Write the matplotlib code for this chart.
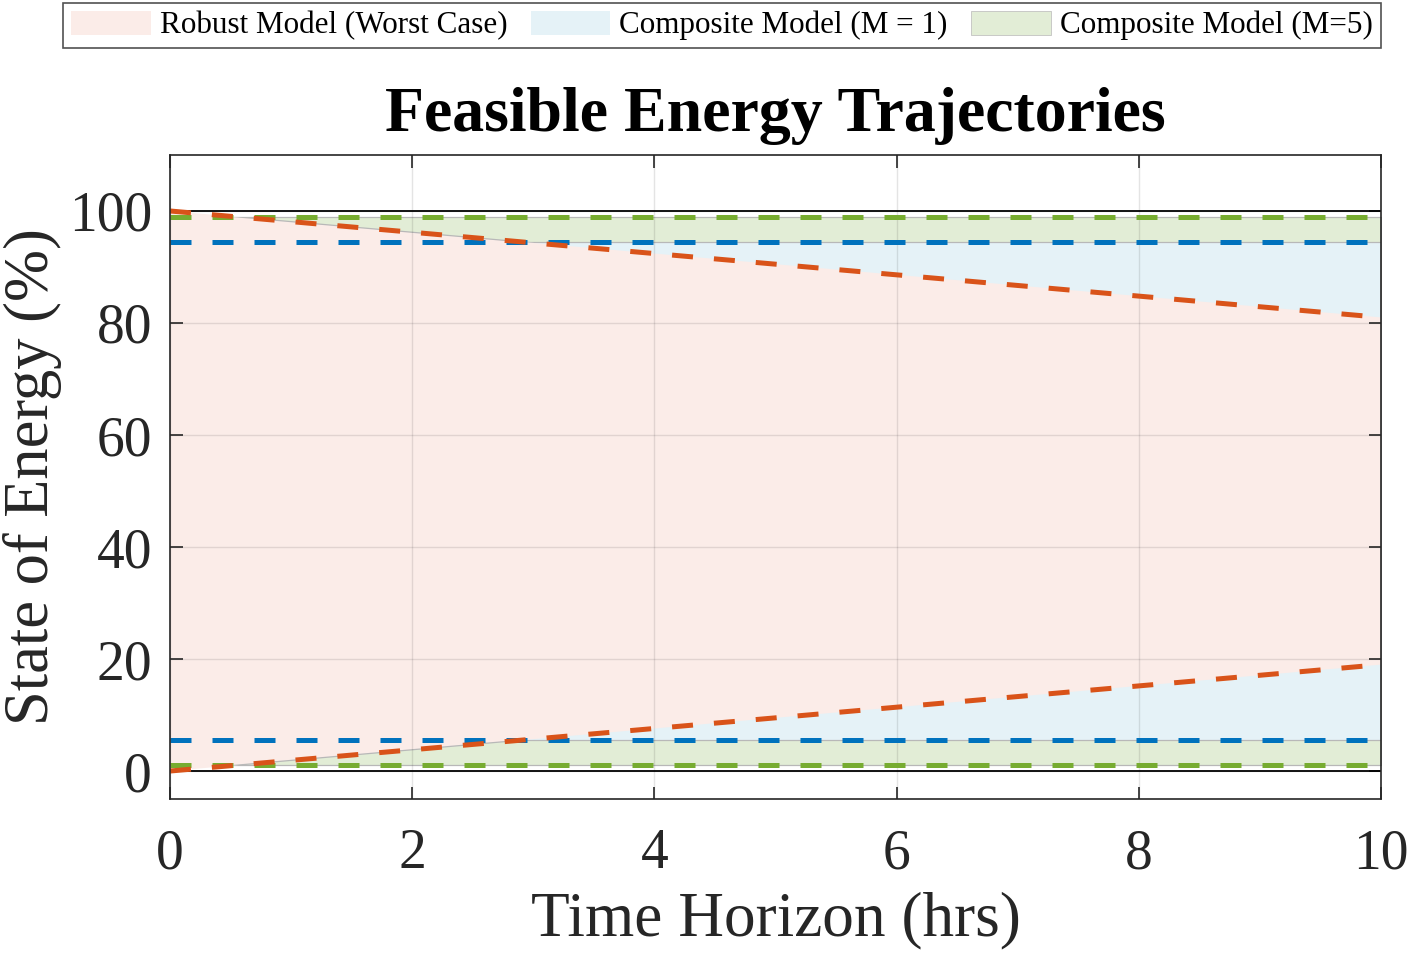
import matplotlib
matplotlib.use("Agg")
import matplotlib.pyplot as plt
from matplotlib.patches import Rectangle, Patch
import numpy as np

# ---- data ----
t_hours = [0, 1, 2, 3, 4, 5, 6, 7, 8, 9, 10]
robust_upper = [100, 98.1, 96.2, 94.3, 92.4, 90.5, 88.6, 86.7, 84.8, 82.9, 81.0]
robust_lower = [0, 1.9, 3.8, 5.7, 7.6, 9.5, 11.4, 13.3, 15.2, 17.1, 19.0]
m1_bounds = [5.5, 94.5]
m5_bounds = [1.0, 99.0]
soe_limits = [0, 100]
x_ticks = [0, 2, 4, 6, 8, 10]
y_ticks = [0, 20, 40, 60, 80, 100]
legend_labels = ["Robust Model (Worst Case)", "Composite Model (M = 1)", "Composite Model (M=5)"]

# ---- style ----
c_orange = "#D95319"
c_blue = "#0072BD"
c_green = "#77AC30"
f_pink = "#FBECE8"
f_blue = "#E5F2F7"
f_green = "#E2EDD6"
edge_gray = "#B8B8B8"
txt = "#262626"

plt.rcParams["font.family"] = ["Liberation Serif", "DejaVu Serif"]
plt.rcParams["mathtext.fontset"] = "stix"

fig = plt.figure(figsize=(14.12, 9.59), dpi=100)
ax = fig.add_axes([0.1204, 0.1668, 0.8576, 0.6716])

t = np.array(t_hours, dtype=float)
ub = np.array(robust_upper)
lb = np.array(robust_lower)
xmin, xmax = t[0], t[-1]

# fills (layered)
ax.fill_between(t, m5_bounds[0], m5_bounds[1], facecolor=f_green,
                edgecolor=edge_gray, linewidth=0.9, zorder=1)
ax.fill_between(t, m1_bounds[0], m1_bounds[1], facecolor=f_blue,
                edgecolor=edge_gray, linewidth=0.9, zorder=1.1)
ax.fill_between(t, lb, ub, facecolor=f_pink, edgecolor="none", zorder=1.2)

# gray edge of robust region where it borders the green band
for yv, lo, hi in [(ub, m1_bounds[1], m5_bounds[1]), (lb, m5_bounds[0], m1_bounds[0])]:
    ln, = ax.plot(t, yv, color=edge_gray, lw=0.9, zorder=1.3)
    ln.set_clip_path(Rectangle((xmin, lo), xmax - xmin, hi - lo, transform=ax.transData))

# SOE limits (black)
for yl in soe_limits:
    ax.plot([xmin, xmax], [yl, yl], color="black", lw=1.3, zorder=2)

dash = (0, (4.2, 4.2))
lw = 3.6
for yb in m5_bounds:
    ax.plot([xmin, xmax], [yb, yb], color=c_green, lw=lw, linestyle=dash, zorder=3)
for yb in m1_bounds:
    ax.plot([xmin, xmax], [yb, yb], color=c_blue, lw=lw, linestyle=dash, zorder=3.1)
ax.plot(t, ub, color=c_orange, lw=lw, linestyle=dash, zorder=3.2)
ax.plot(t, lb, color=c_orange, lw=lw, linestyle=dash, zorder=3.2)

ax.set_xlim(0, 10)
ax.set_ylim(-5, 110)
ax.set_xticks(x_ticks)
ax.set_yticks(y_ticks)
ax.grid(True, color="#262626", alpha=0.12, lw=1.0)
for gl in ax.get_xgridlines() + ax.get_ygridlines():
    gl.set_zorder(1.5)

ax.tick_params(direction="in", length=9, width=1.2, top=True, right=True,
               labelsize=40, colors=txt)
ax.tick_params(axis="x", pad=21)
ax.tick_params(axis="y", pad=13)
for s in ax.spines.values():
    s.set_color(txt)
    s.set_linewidth(1.2)
    s.set_zorder(5)

ax.set_xlabel("Time Horizon (hrs)", fontsize=45.5, color=txt, labelpad=8)
ax.set_ylabel("State of Energy (%)", fontsize=45, color=txt, labelpad=5)
ax.set_title("Feasible Energy Trajectories", fontsize=46, fontweight="bold",
             color="black", pad=17)

handles = [Patch(facecolor=f_pink, edgecolor="none"),
           Patch(facecolor=f_blue, edgecolor="none"),
           Patch(facecolor=f_green, edgecolor=edge_gray, linewidth=0.5)]
leg = fig.legend(handles, legend_labels, loc="upper center",
                 bbox_to_anchor=(0.5113, 0.9969),
                 ncol=3, fontsize=22.4, frameon=True, fancybox=False,
                 handlelength=2.55, handleheight=0.8, handletextpad=0.3,
                 borderaxespad=0, borderpad=0.25, columnspacing=0.75)
leg.get_frame().set_edgecolor(txt)
leg.get_frame().set_linewidth(1.2)

fig.savefig("out.png", dpi=100)
